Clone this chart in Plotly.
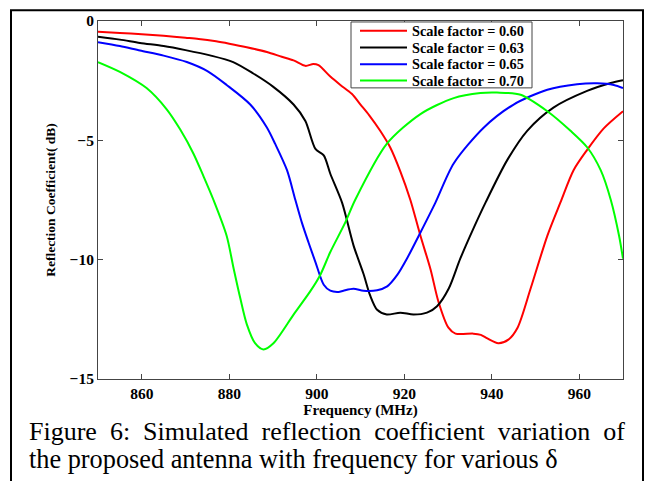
import plotly.graph_objects as go

# ---- data ----
red_f = [850, 855, 860, 865, 870, 873, 877, 880, 884, 888.6, 892, 894.7, 897.4, 899.2, 900.4,
         903.1, 905.4, 908, 910, 912, 914.5, 916.8, 919.1, 921.4, 923.7, 926, 927.8, 930.1,
         931.7, 935.8, 937.5, 939, 941.5, 943.8, 945.9, 948.9, 952.7, 955.7, 958.7, 961.8,
         965.6, 970]
red_v = [-0.45, -0.5, -0.55, -0.62, -0.7, -0.75, -0.85, -0.95, -1.1, -1.3, -1.5, -1.65, -1.88,
         -1.8, -1.85, -2.33, -2.68, -3.05, -3.5, -3.95, -4.6, -5.3, -6.3, -7.5, -9.0, -10.4,
         -11.75, -12.85, -13.1, -13.1, -13.15, -13.3, -13.5, -13.35, -12.85, -11.2, -9.0, -7.6,
         -6.25, -5.4, -4.5, -3.78]

black_f = [850, 855, 859.6, 865, 870, 875.6, 880.9, 885.5, 890, 894.7, 897.4, 899.7, 901.6,
           903.1, 905.8, 908.4, 910.7, 912.2, 913.8, 916, 919.1, 922.1, 925.2, 927.5, 930.2,
           932.8, 935.8, 938.6, 943.5, 948.1, 954.1, 961.8, 967.2, 970]
black_v = [-0.66, -0.78, -0.92, -1.05, -1.22, -1.44, -1.72, -2.2, -2.75, -3.5, -4.19, -5.36,
           -5.63, -6.4, -7.62, -9.4, -10.6, -11.5, -12.1, -12.3, -12.22, -12.3, -12.22, -11.95,
           -11.2, -9.96, -8.7, -7.6, -5.84, -4.6, -3.63, -2.93, -2.6, -2.48]

blue_f = [850, 855, 859.6, 865, 870.3, 875, 879.4, 884.8, 888.6, 890.5, 893.2, 895.1, 896.6,
          898.1, 899.7, 901.6, 903.1, 905, 906.1, 908.4, 910.7, 913.8, 916.1, 918.4, 920.6,
          923.7, 927.1, 931.3, 938.2, 945, 952.7, 959.5, 964.1, 967.9, 970]
blue_v = [-0.89, -1.05, -1.24, -1.45, -1.72, -2.1, -2.68, -3.5, -4.46, -5.15, -6.25, -7.49,
          -8.45, -9.27, -10.1, -11.05, -11.3, -11.35, -11.3, -11.22, -11.3, -11.28, -11.12,
          -10.64, -9.96, -8.86, -7.62, -5.97, -4.46, -3.5, -2.88, -2.65, -2.61, -2.68, -2.81]

green_f = [850, 855, 861.1, 865.7, 868.8, 871.8, 874.1, 876.4, 879.4, 881, 882.5, 884, 885.9,
           887.8, 890.1, 894.7, 898.5, 900.8, 903.1, 906.5, 908.8, 916, 923.7, 931.3, 937.4,
           941.2, 946.6, 952.7, 958, 961.8, 964.9, 967.2, 969.1, 970]
green_v = [-1.72, -2.13, -2.81, -3.7, -4.55, -5.55, -6.5, -7.5, -9.0, -10.37, -11.6, -12.7,
           -13.5, -13.76, -13.5, -12.3, -11.33, -10.64, -9.68, -8.45, -7.49, -5.15, -3.9, -3.23,
           -3.02, -3.0, -3.09, -3.78, -4.6, -5.29, -6.25, -7.49, -9.0, -9.96]

series_names = ["Scale factor = 0.60", "Scale factor = 0.63",
                "Scale factor = 0.65", "Scale factor = 0.70"]
series_colors = ["#ff0000", "#000000", "#0000ff", "#00ff00"]
x_ticks = [860, 880, 900, 920, 940, 960]
y_ticks = [0, -5, -10, -15]

caption1 = "Figure 6: Simulated reflection coefficient variation of"
caption2 = "the proposed antenna with frequency for various δ"

# ---- figure ----
SERIF = "Liberation Serif"
fig = go.Figure()
for f, v, name, col in zip([red_f, black_f, blue_f, green_f],
                           [red_v, black_v, blue_v, green_v],
                           series_names, series_colors):
    fig.add_trace(go.Scatter(x=f, y=v, mode="lines", name=name, showlegend=False,
                             line=dict(color=col, width=2, shape="spline", smoothing=0.8)))

axis_common = dict(
    showline=True, linecolor="#444444", linewidth=1, mirror="ticks",
    ticks="inside", ticklen=5, tickcolor="#444444", showgrid=False, zeroline=False,
    tickfont=dict(family=SERIF, size=15.5, color="black", weight="bold"),
)
fig.update_xaxes(range=[850, 970], tickvals=x_ticks, **axis_common,
                 title=dict(text="Frequency (MHz)", standoff=0,
                            font=dict(family=SERIF, size=15, color="black", weight="bold")))
fig.update_yaxes(range=[-15, 0], tickvals=y_ticks, **axis_common,
                 title=dict(text="Reflection Coefficient( dB)", standoff=10,
                            font=dict(family=SERIF, size=13.5, color="black", weight="bold")))

# ---- legend box (drawn to match the reference's compact layout) ----
def px_x(px):
    return (px - 98) / 525.0

def px_y(py):
    return (379 - py) / 364.0

fig.add_shape(type="rect", xref="paper", yref="paper",
              x0=px_x(351), x1=px_x(532), y0=px_y(83), y1=px_y(16),
              line=dict(color="#444444", width=1), fillcolor="white", layer="above")
row_y = [25, 42, 59, 75.5]
for name, col, ry in zip(series_names, series_colors, row_y):
    fig.add_shape(type="line", xref="paper", yref="paper",
                  x0=px_x(360), x1=px_x(407), y0=px_y(ry), y1=px_y(ry),
                  line=dict(color=col, width=2), layer="above")
    fig.add_annotation(text=name, xref="paper", yref="paper", x=px_x(410), y=px_y(ry),
                       xanchor="left", yanchor="middle", showarrow=False,
                       font=dict(family=SERIF, size=14.3, color="black", weight="bold"))

def justify(s):
    return "\u00a0\u00a0".join(s.split(" "))

fig.add_annotation(text=justify(caption1), xref="paper", yref="paper",
                   x=px_x(27), y=px_y(432), xanchor="left", yanchor="middle", showarrow=False,
                   font=dict(family=SERIF, size=26, color="black"))
fig.add_annotation(text=caption2, xref="paper", yref="paper",
                   x=px_x(27), y=px_y(461), xanchor="left", yanchor="middle", showarrow=False,
                   font=dict(family=SERIF, size=26.3, color="black"))

# outer figure frame
fig.add_shape(type="rect", xref="paper", yref="paper",
              x0=px_x(11), x1=px_x(643), y0=px_y(500), y1=px_y(4),
              line=dict(color="black", width=2), fillcolor="rgba(0,0,0,0)", layer="above")

fig.update_layout(
    width=648, height=481,
    margin=dict(l=98, r=25, t=15, b=102),
    paper_bgcolor="white", plot_bgcolor="white",
    showlegend=False,
)

fig.write_html("out.html")
